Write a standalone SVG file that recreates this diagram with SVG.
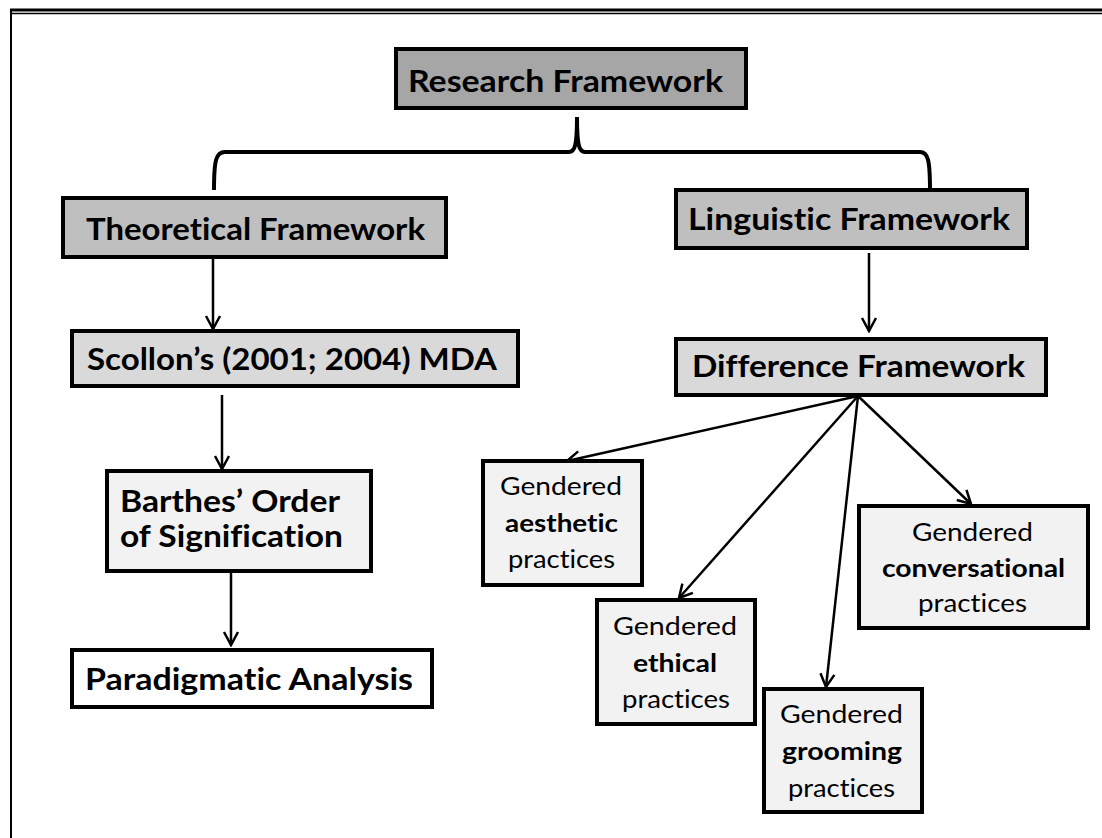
<svg xmlns="http://www.w3.org/2000/svg" width="1102" height="838" viewBox="0 0 1102 838">
<defs>
<marker id="ah" markerUnits="userSpaceOnUse" markerWidth="18" markerHeight="18" viewBox="0 0 18 18" refX="16" refY="9" orient="auto">
<path d="M3,2 L16,9 L3,16" fill="none" stroke="#000" stroke-width="2.5" stroke-linejoin="miter"/>
</marker>
</defs>
<style>
text{font-variant-ligatures:none;font-feature-settings:"liga" 0,"clig" 0}
.box{stroke:#000;stroke-width:4}
.h{font-family:Lato,"Liberation Sans",sans-serif;font-weight:bold;font-size:30px;fill:#000}
.t{font-family:Lato,"Liberation Sans",sans-serif;font-size:25px;fill:#000}
.b{font-family:Lato,"Liberation Sans",sans-serif;font-weight:bold;font-size:25px;fill:#000}
.c{fill:none;stroke:#000;stroke-width:2.5}
</style>
<rect width="1102" height="838" fill="#fff"/>
<g id="frame">
<line x1="10" y1="10" x2="1102" y2="10" stroke="#000" stroke-width="3"/>
<line x1="12" y1="13.5" x2="1102" y2="13.5" stroke="#000" stroke-width="1.5"/>
<line x1="11" y1="9" x2="11" y2="838" stroke="#000" stroke-width="2"/>
</g>
<g id="connectors">
<path d="M214,190 C214,160 216,152 225,152 L569,152 C575,152 577,145 577,117 C577,145 579,152 585,152 L920,152 C928,152 930,160 930,190" fill="none" stroke="#000" stroke-width="4"/>
<line class="c" x1="213" y1="257" x2="213" y2="329" marker-end="url(#ah)"/>
<line class="c" x1="222" y1="395" x2="222" y2="469" marker-end="url(#ah)"/>
<line class="c" x1="231" y1="570" x2="231" y2="645" marker-end="url(#ah)"/>
<line class="c" x1="869" y1="253" x2="869" y2="331" marker-end="url(#ah)"/>
<line class="c" x1="858" y1="396" x2="567" y2="461" marker-end="url(#ah)"/>
<line class="c" x1="858" y1="396" x2="679" y2="598" marker-end="url(#ah)"/>
<line class="c" x1="858" y1="396" x2="826" y2="687" marker-end="url(#ah)"/>
<line class="c" x1="858" y1="396" x2="971" y2="504" marker-end="url(#ah)"/>
</g>
<g id="research">
<rect class="box" x="396" y="49" width="350" height="59" fill="#a6a6a6"/>
<text class="h" x="408" y="92" textLength="315" lengthAdjust="spacingAndGlyphs">Research Framework</text>
</g>
<g id="theoretical">
<rect class="box" x="63" y="198" width="383" height="59" fill="#bfbfbf"/>
<text class="h" x="86" y="240" textLength="339" lengthAdjust="spacingAndGlyphs">Theoretical Framework</text>
</g>
<g id="linguistic">
<rect class="box" x="676" y="190" width="351" height="58" fill="#bfbfbf"/>
<text class="h" x="688" y="230" textLength="322" lengthAdjust="spacingAndGlyphs">Linguistic Framework</text>
</g>
<g id="scollon">
<rect class="box" x="72" y="331" width="446" height="55" fill="#d9d9d9"/>
<text class="h" x="87" y="370" textLength="410" lengthAdjust="spacingAndGlyphs">Scollon’s (2001; 2004) MDA</text>
</g>
<g id="difference">
<rect class="box" x="676" y="339" width="370" height="56" fill="#d9d9d9"/>
<text class="h" x="692" y="377" textLength="333" lengthAdjust="spacingAndGlyphs">Difference Framework</text>
</g>
<g id="barthes">
<rect class="box" x="107" y="471" width="264" height="100" fill="#f2f2f2"/>
<text class="h" x="120" y="512" textLength="220" lengthAdjust="spacingAndGlyphs">Barthes’ Order</text>
<text class="h" x="120" y="547" textLength="223" lengthAdjust="spacingAndGlyphs">of Signification</text>
</g>
<g id="paradigmatic">
<rect class="box" x="72" y="650" width="360" height="57" fill="#fff"/>
<text class="h" x="85" y="690" textLength="328" lengthAdjust="spacingAndGlyphs">Paradigmatic Analysis</text>
</g>
<g id="aesthetic">
<rect class="box" x="483" y="461" width="159" height="124" fill="#f2f2f2"/>
<text class="t" x="500" y="495" textLength="122" lengthAdjust="spacingAndGlyphs">Gendered</text>
<text class="b" x="505" y="532" textLength="113" lengthAdjust="spacingAndGlyphs">aesthetic</text>
<text class="t" x="508" y="568" textLength="107" lengthAdjust="spacingAndGlyphs">practices</text>
</g>
<g id="ethical">
<rect class="box" x="597" y="600" width="158" height="124" fill="#f2f2f2"/>
<text class="t" x="613" y="635" textLength="124" lengthAdjust="spacingAndGlyphs">Gendered</text>
<text class="b" x="633" y="672" textLength="84" lengthAdjust="spacingAndGlyphs">ethical</text>
<text class="t" x="622" y="708" textLength="108" lengthAdjust="spacingAndGlyphs">practices</text>
</g>
<g id="grooming">
<rect class="box" x="764" y="689" width="158" height="123" fill="#f2f2f2"/>
<text class="t" x="780" y="723" textLength="123" lengthAdjust="spacingAndGlyphs">Gendered</text>
<text class="b" x="782" y="760" textLength="120" lengthAdjust="spacingAndGlyphs">grooming</text>
<text class="t" x="788" y="797" textLength="107" lengthAdjust="spacingAndGlyphs">practices</text>
</g>
<g id="conversational">
<rect class="box" x="859" y="506" width="229" height="122" fill="#f2f2f2"/>
<text class="t" x="912" y="541" textLength="121" lengthAdjust="spacingAndGlyphs">Gendered</text>
<text class="b" x="882" y="577" textLength="183" lengthAdjust="spacingAndGlyphs">conversational</text>
<text class="t" x="918" y="612" textLength="109" lengthAdjust="spacingAndGlyphs">practices</text>
</g>
</svg>
